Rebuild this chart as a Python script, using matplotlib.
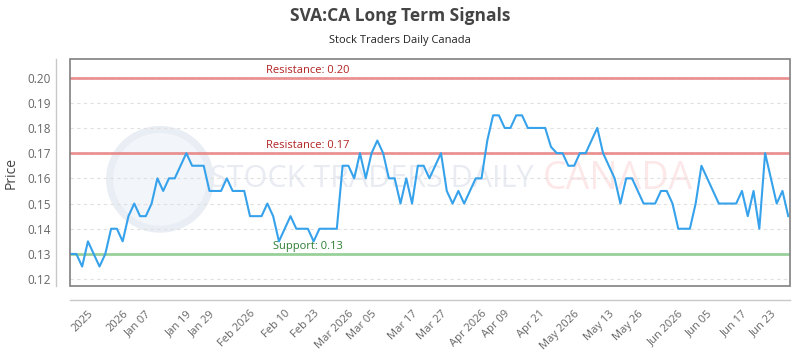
import matplotlib.pyplot as plt
from matplotlib.patches import Rectangle, Ellipse

plt.rcParams["font.family"] = ["Open Sans", "DejaVu Sans"]

TITLE = "SVA:CA Long Term Signals"
SUBTITLE = "Stock Traders Daily Canada"

prices = [
    0.13, 0.13, 0.125, 0.135, 0.13, 0.125, 0.13, 0.14, 0.14, 0.135,
    0.145, 0.15, 0.145, 0.145, 0.15, 0.16, 0.155, 0.16, 0.16, 0.165,
    0.17, 0.165, 0.165, 0.165, 0.155, 0.155, 0.155, 0.16, 0.155, 0.155,
    0.155, 0.145, 0.145, 0.145, 0.15, 0.145, 0.135, 0.14, 0.145, 0.14,
    0.14, 0.14,
    0.135, 0.14, 0.14, 0.14, 0.14, 0.165, 0.165, 0.16, 0.17, 0.16,
    0.17, 0.175, 0.17, 0.16, 0.16, 0.15, 0.16, 0.15, 0.165, 0.165,
    0.16, 0.165, 0.17, 0.155, 0.15, 0.155, 0.15, 0.155, 0.16, 0.16,
    0.175, 0.185, 0.185, 0.18, 0.18, 0.185, 0.185,
    0.18, 0.18, 0.18, 0.18, 0.1725, 0.17, 0.17, 0.165, 0.165, 0.17,
    0.17, 0.175, 0.18, 0.17, 0.165, 0.16, 0.15, 0.16, 0.16, 0.155,
    0.15, 0.15, 0.15, 0.155, 0.155, 0.15, 0.14, 0.14, 0.14, 0.15,
    0.165, 0.16, 0.155, 0.15, 0.15, 0.15, 0.15, 0.155, 0.145, 0.155,
    0.14, 0.17, 0.16, 0.15, 0.155, 0.145,
]

tick_pos = [3, 9, 13, 20, 24, 31, 37, 42, 48, 52, 59, 64,
            71, 75, 81, 87, 93, 98, 105, 110, 116, 121]
tick_labels = ["2025", "2026", "Jan 07", "Jan 19", "Jan 29", "Feb 2026",
               "Feb 10", "Feb 23", "Mar 2026", "Mar 05", "Mar 17", "Mar 27",
               "Apr 2026", "Apr 09", "Apr 21", "May 2026", "May 13", "May 26",
               "Jun 2026", "Jun 05", "Jun 17", "Jun 23"]

resistance_levels = [0.20, 0.17]
support_levels = [0.13]
y_ticks = [0.12, 0.13, 0.14, 0.15, 0.16, 0.17, 0.18, 0.19, 0.20]

fig = plt.figure(figsize=(8, 3.5), dpi=100)
ax = fig.add_axes([0.0875, 0.183, 0.9, 0.648])

# spines first: set_position resets the ticks
for side in ["top", "right"]:
    ax.spines[side].set_visible(False)
for side in ["left", "bottom"]:
    ax.spines[side].set_position(("outward", 10))
    ax.spines[side].set_color("#c8c8c8")
    ax.spines[side].set_linewidth(1)

x = list(range(len(prices)))

# watermark
ax.add_patch(Ellipse((0.125, 0.47), 0.14, 0.44, transform=ax.transAxes,
                     facecolor="#f2f5fa", edgecolor="#e9edf4", lw=5, zorder=0))
ax.text(0.195, 0.47, "STOCK TRADERS DAILY", transform=ax.transAxes,
        fontsize=22, color="#e8ecf2", va="center", ha="left", zorder=0)
ax.text(0.656, 0.47, "CANADA", transform=ax.transAxes,
        fontsize=27, color="#fce8e8", va="center", ha="left", zorder=0)

for lvl in resistance_levels:
    ax.axhline(lvl, color="#e88080", lw=2, alpha=0.85, zorder=2)
    ax.text(0.33, lvl + 0.0007, f"Resistance: {lvl:.2f}",
            transform=ax.get_yaxis_transform(), ha="center", va="bottom",
            fontsize=8, color="#b22222")
for lvl in support_levels:
    ax.axhline(lvl, color="#8fcc8f", lw=2, alpha=0.9, zorder=2)
    ax.text(0.33, lvl + 0.0007, f"Support: {lvl:.2f}",
            transform=ax.get_yaxis_transform(), ha="center", va="bottom",
            fontsize=8, color="#2e7d32")

ax.plot(x, prices, color="#36a2eb", lw=1.5, zorder=3)

ax.set_xlim(-0.1, len(prices) - 1 + 0.3)
ax.set_ylim(0.1173, 0.2073)
ax.set_yticks(y_ticks)
ax.set_yticklabels([f"{v:.2f}" for v in y_ticks], fontsize=8.5, color="#666666")
ax.set_xticks(tick_pos)
ax.set_xticklabels(tick_labels, rotation=45, ha="right",
                   rotation_mode="anchor", fontsize=8, color="#666666")
ax.tick_params(axis="y", length=0, pad=4)
ax.tick_params(axis="x", length=0, pad=6)

ax.grid(axis="y", color="#e0e0e0", linestyle=(0, (3, 3)), lw=0.8)
ax.set_axisbelow(True)

ax.add_patch(Rectangle((0, 0), 1, 1, transform=ax.transAxes, fill=False,
                       edgecolor="#808080", lw=1.2, clip_on=False, zorder=5))

ax.set_ylabel("Price", fontsize=10, color="#444444", labelpad=6)

fig.text(0.5, 0.955, TITLE, ha="center", va="center", fontsize=12.5,
         fontweight="bold", color="#444444")
fig.text(0.5, 0.883, SUBTITLE, ha="center", va="center", fontsize=8,
         color="#222222")

fig.savefig("out.png", dpi=100)
